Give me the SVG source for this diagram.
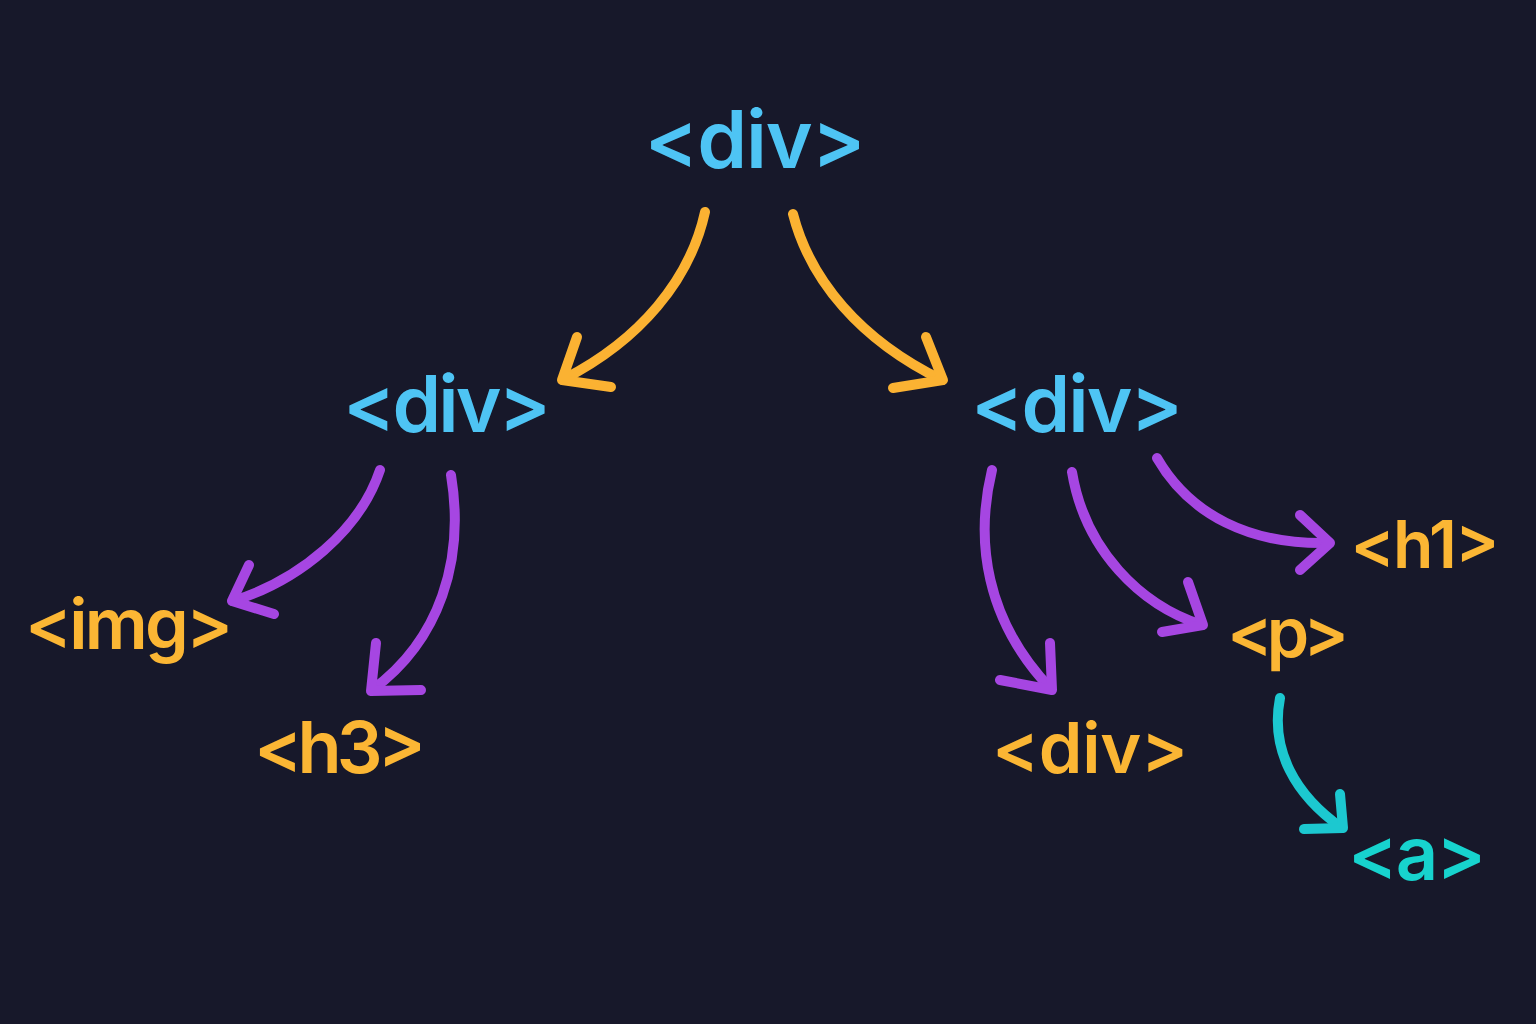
<svg xmlns="http://www.w3.org/2000/svg" width="1536" height="1024" viewBox="0 0 1536 1024">
<style>
.t{font-family:Inter,"Noto Sans","Liberation Sans",sans-serif;font-weight:600;text-anchor:middle}
.b{fill:#4EC4F4}.o{fill:#FBB634}.c{fill:#17D3CE}
.e{fill:none;stroke-width:10;stroke-linecap:round;stroke-linejoin:round}
.eo{stroke:#FBB232}.ep{stroke:#A646E2}.ec{stroke:#1CC8D0}
</style>
<rect width="1536" height="1024" fill="#17182A"/>
<g id="n-root"><text class="t b" x="755" y="168" font-size="80" textLength="221" lengthAdjust="spacing">&lt;div&gt;</text></g>
<g id="n-divL"><text class="t b" x="447" y="432" font-size="78" textLength="208" lengthAdjust="spacing">&lt;div&gt;</text></g>
<g id="n-divR"><text class="t b" x="1077" y="432" font-size="78" textLength="212" lengthAdjust="spacing">&lt;div&gt;</text></g>
<g id="n-img"><text class="t o" x="129" y="649" font-size="70" textLength="208" lengthAdjust="spacing">&lt;img&gt;</text></g>
<g id="n-h3"><text class="t o" x="340" y="773" font-size="72" textLength="172" lengthAdjust="spacing">&lt;h3&gt;</text></g>
<g id="n-h1"><text class="t o" x="1425" y="568" font-size="66" textLength="149" lengthAdjust="spacing">&lt;h1&gt;</text></g>
<g id="n-p"><text class="t o" x="1288" y="657" font-size="68" textLength="122" lengthAdjust="spacing">&lt;p&gt;</text></g>
<g id="n-divB"><text class="t o" x="1090" y="773" font-size="70" textLength="196" lengthAdjust="spacing">&lt;div&gt;</text></g>
<g id="n-a"><text class="t c" x="1417" y="880" font-size="74" textLength="138" lengthAdjust="spacing">&lt;a&gt;</text></g>
<g id="connectors">
<path class="e eo" d="M705,212 C690,280 640,340 564,379"/>
<path class="e eo" d="M577,337 L562,380 L611,387"/>
<path class="e eo" d="M793,214 C810,280 860,340 942,380"/>
<path class="e eo" d="M926,337 L943,380 L893,388"/>
<path class="e ep" d="M380,470 C360,530 300,580 233,601"/>
<path class="e ep" d="M249,565 L232,601 L274,614"/>
<path class="e ep" d="M451,475 C465,560 440,640 372,690"/>
<path class="e ep" d="M376,643 L371,691 L421,690"/>
<path class="e ep" d="M992,470 C975,540 985,620 1051,689"/>
<path class="e ep" d="M1050,643 L1052,690 L1000,680"/>
<path class="e ep" d="M1072,472 C1085,550 1140,605 1202,625"/>
<path class="e ep" d="M1188,582 L1203,625 L1162,632"/>
<path class="e ep" d="M1157,458 C1190,515 1250,545 1329,543"/>
<path class="e ep" d="M1300,515 L1330,543 L1300,570"/>
<path class="e ec" d="M1280,698 C1270,750 1295,795 1342,828"/>
<path class="e ec" d="M1340,794 L1343,828 L1304,829"/>
</g>
</svg>
